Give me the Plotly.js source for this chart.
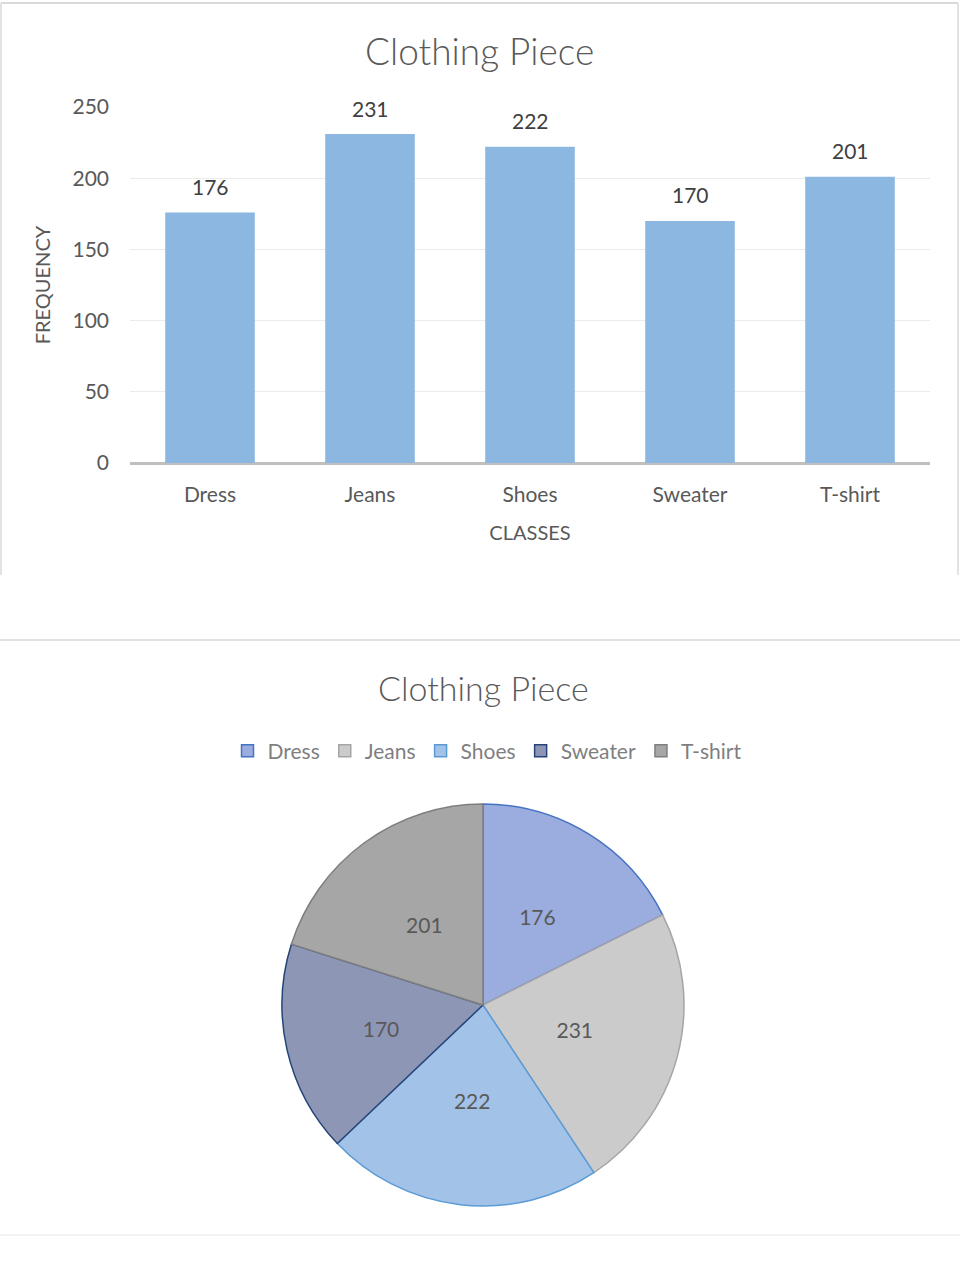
<!DOCTYPE html>
<html>
<head>
<meta charset="utf-8">
<script src="https://cdn.plot.ly/plotly-3.0.1.min.js"></script>
<style>
html,body{margin:0;padding:0;background:#fff;}
#chart{width:960px;height:1280px;}
</style>
</head>
<body>
<div id="chart"></div>
<script>
const categories = ["Dress", "Jeans", "Shoes", "Sweater", "T-shirt"];
const frequencies = [176, 231, 222, 170, 201];
const yTicks = [0, 50, 100, 150, 200, 250];
const chartTitle = "Clothing Piece";
const xTitle = "CLASSES";
const yTitle = "FREQUENCY";

const pieFill = ["#9badde", "#cbcbcb", "#a2c2e8", "#8e96b6", "#a6a6a6"];
const pieLine = ["#4472c4", "#a5a5a5", "#5b9bd5", "#264478", "#7f7f7f"];

const FONT = "Lato, 'Open Sans', sans-serif";
const H = 1280, W = 960;
const py = v => 1 - v / H;
const px = v => v / W;

const bar = {
  type: "bar",
  x: categories,
  y: frequencies,
  marker: {color: "#8cb7e1"},
  showlegend: false,
  hoverinfo: "x+y",
  xaxis: "x", yaxis: "y"
};

// pie slices with outlines and legend
const pie = {
  type: "pie",
  labels: categories,
  values: frequencies,
  sort: false,
  direction: "clockwise",
  rotation: 0,
  marker: {colors: pieFill, line: {color: pieLine, width: 1.5}},
  textinfo: "none",
  domain: {x: [px(282), px(684)], y: [py(1206), py(804)]},
  showlegend: true
};

// same data on a transparent inner pie: carries the value labels nearer the centre
const pieLabels = {
  type: "pie",
  labels: categories,
  values: frequencies,
  sort: false,
  direction: "clockwise",
  rotation: 0,
  marker: {colors: categories.map(() => "rgba(0,0,0,0)"), line: {width: 0}},
  textinfo: "value",
  textposition: "inside",
  insidetextorientation: "horizontal",
  textfont: {family: FONT, size: 21, color: "#595959"},
  domain: {x: [px(325), px(641)], y: [py(1163), py(847)]},
  showlegend: false,
  hoverinfo: "skip"
};

const valueLabels = categories.map((c, i) => ({
  x: c, y: frequencies[i], xref: "x", yref: "y",
  text: String(frequencies[i]),
  showarrow: false, yanchor: "middle", yshift: 26,
  font: {family: FONT, size: 21, color: "#404040"}
}));

const layout = {
  width: W, height: H,
  margin: {l: 0, r: 0, t: 0, b: 0},
  paper_bgcolor: "#ffffff",
  plot_bgcolor: "#ffffff",
  font: {family: FONT, color: "#595959"},
  bargap: 0.44,
  xaxis: {
    domain: [px(130), px(930)],
    anchor: "y",
    showgrid: false,
    zeroline: false,
    showline: false,
    ticks: "",
    ticklabelstandoff: 17,
    tickfont: {family: FONT, size: 21, color: "#595959"},
    title: {text: xTitle, font: {family: FONT, size: 20, color: "#595959"}, standoff: 20}
  },
  yaxis: {
    domain: [py(463), py(107)],
    anchor: "x",
    range: [0, 250],
    tickvals: yTicks,
    showgrid: true,
    gridcolor: "#ebebeb",
    gridwidth: 1,
    zeroline: true,
    zerolinecolor: "#bfbfbf",
    zerolinewidth: 3,
    showline: false,
    ticks: "",
    ticklabelstandoff: 20,
    tickfont: {family: FONT, size: 21, color: "#595959"},
    title: {text: yTitle, font: {family: FONT, size: 20, color: "#595959"}, standoff: 16}
  },
  legend: {
    orientation: "h",
    x: px(487), xanchor: "center",
    y: py(751), yanchor: "middle",
    font: {family: FONT, size: 21, color: "#7f7f7f"},
    itemwidth: 30,
    tracegroupgap: 0
  },
  annotations: [
    {text: chartTitle, xref: "paper", yref: "paper", x: px(479), y: py(51), xanchor: "center", yanchor: "middle", showarrow: false, font: {family: FONT, size: 37, weight: 300, color: "#595959"}},
    {text: chartTitle, xref: "paper", yref: "paper", x: px(483), y: py(687), xanchor: "center", yanchor: "middle", showarrow: false, font: {family: FONT, size: 34, weight: 300, color: "#595959"}}
  ].concat(valueLabels),
  shapes: [
    {type: "line", xref: "paper", yref: "paper", x0: px(1), x1: px(958), y0: py(3), y1: py(3), line: {color: "#d9d9d9", width: 2}},
    {type: "line", xref: "paper", yref: "paper", x0: px(1), x1: px(1), y0: py(3), y1: py(575), line: {color: "#d9d9d9", width: 1.5}},
    {type: "line", xref: "paper", yref: "paper", x0: px(958), x1: px(958), y0: py(3), y1: py(575), line: {color: "#d9d9d9", width: 1.5}},
    {type: "line", xref: "paper", yref: "paper", x0: 0, x1: 1, y0: py(640), y1: py(640), line: {color: "#d9d9d9", width: 1.5}},
    {type: "line", xref: "paper", yref: "paper", x0: 0, x1: 1, y0: py(1235), y1: py(1235), line: {color: "#e6e6e6", width: 1}}
  ]
};

Plotly.newPlot("chart", [bar, pie, pieLabels], layout, {displayModeBar: false, staticPlot: true});
</script>
</body>
</html>
